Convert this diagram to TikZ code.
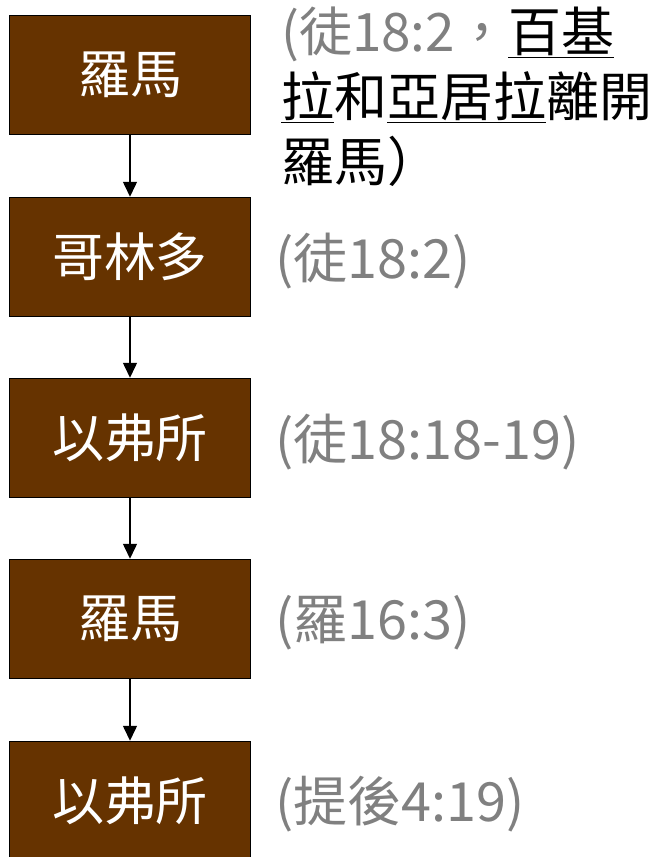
\documentclass[tikz,border=0pt]{standalone}
\usepackage{fontspec}
\newfontfamily\cjk{Noto Sans CJK TC}
\usetikzlibrary{arrows.meta}
\definecolor{boxbrown}{HTML}{663300}
\definecolor{refgray}{HTML}{808080}
\begin{document}
\begin{tikzpicture}[x=1pt,y=-1pt,
  box/.style={draw=black, line width=1.5pt, fill=boxbrown, minimum width=241pt, minimum height=119pt, text=white, font=\cjk\fontsize{52}{62}\selectfont, inner sep=0pt},
  ref/.style={anchor=west, text=refgray, font=\cjk\fontsize{54}{62}\selectfont, inner sep=0pt},
  conn/.style={line width=1.5pt, -{Triangle[width=14pt,length=15pt]}}]
\useasboundingbox (0,0) rectangle (657,857);
\node[box] (b1) at (130,75) {羅馬};
\node[box] (b2) at (130,257) {哥林多};
\node[box] (b3) at (130,438) {以弗所};
\node[box] (b4) at (130,619) {羅馬};
\node[box] (b5) at (130,801) {以弗所};
\draw[conn] (b1) -- (b2);
\draw[conn] (b2) -- (b3);
\draw[conn] (b3) -- (b4);
\draw[conn] (b4) -- (b5);
\node[anchor=north west, inner sep=0pt, align=left, font=\cjk\fontsize{53}{65}\selectfont] (t1) at (281,7)
  {{\color{refgray}(徒18:2，}\underline{百基}\\\underline{拉}和\underline{亞居拉}離開\\羅馬）};
\node[ref] (t2) at (275,261) {(徒18:2)};
\node[ref] (t3) at (275,442) {(徒18:18-19)};
\node[ref] (t4) at (275,623) {(羅16:3)};
\node[ref] (t5) at (275,804) {(提後4:19)};
\end{tikzpicture}
\end{document}
